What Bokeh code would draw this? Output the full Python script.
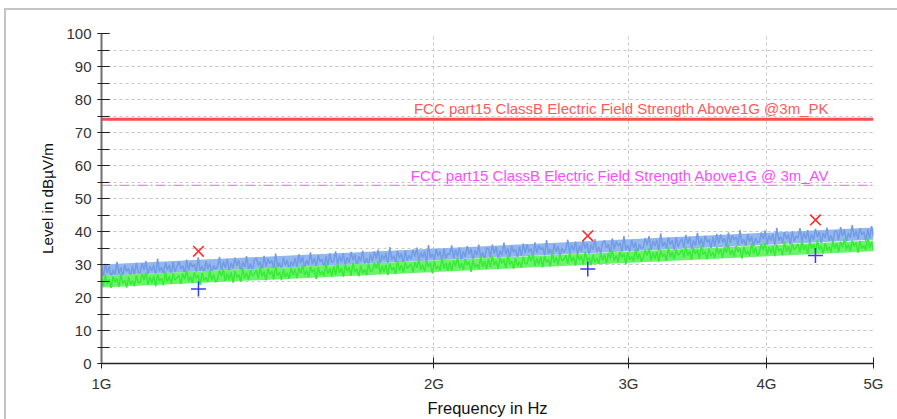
import numpy as np
from bokeh.plotting import figure
from bokeh.models import (Label, FixedTicker, SingleIntervalTicker,
                          CustomJSTickFormatter)
from bokeh.embed import file_html
from bokeh.resources import INLINE

# ---------------- data ----------------
x_ticks = [1e9, 2e9, 3e9, 4e9, 5e9]

pk_limit = 74.0
av_limit = 54.0
pk_limit_label = "FCC part15 ClassB Electric Field Strength Above1G @3m_PK"
av_limit_label = "FCC part15 ClassB Electric Field Strength Above1G @ 3m_AV"
limit_label_freq = 4.56e9

# final measurement markers
pk_freq = [1.224e9, 2.756e9, 4.43e9]
pk_level = [34.0, 38.7, 43.5]
av_freq = [1.224e9, 2.756e9, 4.43e9]
av_level = [22.6, 28.6, 32.7]

# pre-scan traces (peak = blue, average = green), 400 sweep points 1G..5G
peak_trace = [
    29.0, 26.3, 30.2, 27.5, 29.5, 25.9, 28.4, 27.0, 30.8, 27.2, 29.1, 26.5, 29.9, 27.9, 28.8, 26.1, 29.6, 26.8, 30.5, 27.6,
    27.5, 30.4, 28.3, 31.0, 26.8, 29.5, 28.0, 29.9, 26.4, 31.8, 27.9, 29.2, 27.2, 30.6, 28.4, 29.8, 26.6, 30.7, 27.7, 29.3,
    30.9, 28.6, 29.7, 26.9, 31.5, 28.3, 30.6, 29.2, 30.1, 27.6, 32.2, 28.1, 29.5, 27.4, 31.0, 28.7, 30.3, 27.1, 29.8, 28.5,
    29.4, 32.3, 28.3, 30.9, 29.0, 31.7, 27.9, 30.5, 28.8, 32.1, 29.6, 31.3, 27.4, 30.8, 29.3, 32.5, 28.5, 30.2, 28.1, 31.4,
    32.0, 29.7, 30.8, 28.0, 32.6, 29.4, 31.7, 30.3, 31.2, 28.7, 33.3, 29.2, 30.6, 28.5, 32.1, 29.8, 31.4, 28.2, 30.9, 29.6,
    31.9, 29.2, 33.1, 30.4, 32.4, 28.8, 31.3, 29.9, 33.7, 30.1, 32.0, 29.4, 32.8, 30.8, 31.7, 29.0, 32.5, 29.7, 33.4, 30.5,
    31.1, 34.0, 30.0, 32.6, 30.7, 33.4, 29.6, 32.2, 30.5, 33.8, 31.3, 33.0, 29.1, 32.5, 31.0, 34.2, 30.2, 31.9, 29.8, 33.1,
    31.0, 33.9, 31.8, 34.5, 30.3, 33.0, 31.5, 33.4, 29.9, 35.3, 31.4, 32.7, 30.7, 34.1, 31.9, 33.3, 30.1, 34.2, 31.2, 32.8,
    31.6, 34.5, 32.4, 35.1, 30.9, 33.6, 32.1, 34.0, 30.5, 35.9, 32.0, 33.3, 31.3, 34.7, 32.5, 33.9, 30.7, 34.8, 31.8, 33.4,
    32.9, 35.8, 31.8, 34.4, 32.5, 35.2, 31.4, 34.0, 32.3, 35.6, 33.1, 34.8, 30.9, 34.3, 32.8, 36.0, 32.0, 33.7, 31.6, 34.9,
    34.8, 32.1, 36.0, 33.3, 35.3, 31.7, 34.2, 32.8, 36.6, 33.0, 34.9, 32.3, 35.7, 33.7, 34.6, 31.9, 35.4, 32.6, 36.3, 33.4,
    36.1, 33.8, 34.9, 32.1, 36.7, 33.5, 35.8, 34.4, 35.3, 32.8, 37.4, 33.3, 34.7, 32.6, 36.2, 33.9, 35.5, 32.3, 35.0, 33.7,
    34.6, 37.5, 33.5, 36.1, 34.2, 36.9, 33.1, 35.7, 34.0, 37.3, 34.8, 36.5, 32.6, 36.0, 34.5, 37.7, 33.7, 35.4, 33.3, 36.6,
    37.3, 35.0, 36.1, 33.3, 37.9, 34.7, 37.0, 35.6, 36.5, 34.0, 38.6, 34.5, 35.9, 33.8, 37.4, 35.1, 36.7, 33.5, 36.2, 34.9,
    35.1, 38.0, 35.9, 38.6, 34.4, 37.1, 35.6, 37.5, 34.0, 39.4, 35.5, 36.8, 34.8, 38.2, 36.0, 37.4, 34.2, 38.3, 35.3, 36.9,
    37.8, 35.1, 39.0, 36.3, 38.3, 34.7, 37.2, 35.8, 39.6, 36.0, 37.9, 35.3, 38.7, 36.7, 37.6, 34.9, 38.4, 35.6, 39.3, 36.4,
    39.1, 36.8, 37.9, 35.1, 39.7, 36.5, 38.8, 37.4, 38.3, 35.8, 40.4, 36.3, 37.7, 35.6, 39.2, 36.9, 38.5, 35.3, 38.0, 36.7,
    36.8, 39.7, 37.6, 40.3, 36.1, 38.8, 37.3, 39.2, 35.7, 41.1, 37.2, 38.5, 36.5, 39.9, 37.7, 39.1, 35.9, 40.0, 37.0, 38.6,
    38.1, 41.0, 37.0, 39.6, 37.7, 40.4, 36.6, 39.2, 37.5, 40.8, 38.3, 40.0, 36.1, 39.5, 38.0, 41.2, 37.2, 38.9, 36.8, 40.1,
    40.1, 37.4, 41.3, 38.6, 40.6, 37.0, 39.5, 38.1, 41.9, 38.3, 40.2, 37.6, 41.0, 39.0, 39.9, 37.2, 40.7, 37.9, 41.6, 38.7,
]
avg_trace = [
    26.0, 23.5, 26.8, 24.1, 25.5, 22.9, 26.4, 24.6, 25.8, 23.2, 27.1, 24.3, 25.3, 23.0, 26.2, 23.9, 25.1, 23.4, 26.7, 24.5,
    24.6, 27.1, 25.3, 27.5, 23.9, 26.2, 24.3, 26.5, 23.4, 26.9, 25.0, 25.8, 23.7, 27.8, 24.8, 26.4, 24.2, 27.2, 25.4, 26.0,
    26.7, 24.1, 27.2, 25.5, 28.1, 24.9, 26.4, 24.4, 27.6, 25.8, 26.9, 23.8, 27.4, 25.1, 26.1, 24.7, 28.4, 25.3, 27.0, 24.6,
    25.7, 28.2, 26.4, 28.6, 25.0, 27.3, 25.4, 27.6, 24.5, 28.0, 26.1, 26.9, 24.8, 28.9, 25.9, 27.5, 25.3, 28.3, 26.5, 27.1,
    28.3, 25.8, 29.1, 26.4, 27.8, 25.2, 28.7, 26.9, 28.1, 25.5, 29.4, 26.6, 27.6, 25.3, 28.5, 26.2, 27.4, 25.7, 29.0, 26.8,
    28.5, 25.9, 29.0, 27.3, 29.9, 26.7, 28.2, 26.2, 29.4, 27.6, 28.7, 25.6, 29.2, 26.9, 27.9, 26.5, 30.2, 27.1, 28.8, 26.4,
    29.4, 26.9, 30.2, 27.5, 28.9, 26.3, 29.8, 28.0, 29.2, 26.6, 30.5, 27.7, 28.7, 26.4, 29.6, 27.3, 28.5, 26.8, 30.1, 27.9,
    28.0, 30.5, 28.7, 30.9, 27.3, 29.6, 27.7, 29.9, 26.8, 30.3, 28.4, 29.2, 27.1, 31.2, 28.2, 29.8, 27.6, 30.6, 28.8, 29.4,
    30.2, 27.6, 30.7, 29.0, 31.6, 28.4, 29.9, 27.9, 31.1, 29.3, 30.4, 27.3, 30.9, 28.6, 29.6, 28.2, 31.9, 28.8, 30.5, 28.1,
    30.7, 28.1, 31.2, 29.5, 32.1, 28.9, 30.4, 28.4, 31.6, 29.8, 30.9, 27.8, 31.4, 29.1, 30.1, 28.7, 32.4, 29.3, 31.0, 28.6,
    31.7, 29.2, 32.5, 29.8, 31.2, 28.6, 32.1, 30.3, 31.5, 28.9, 32.8, 30.0, 31.0, 28.7, 31.9, 29.6, 30.8, 29.1, 32.4, 30.2,
    30.3, 32.8, 31.0, 33.2, 29.6, 31.9, 30.0, 32.2, 29.1, 32.6, 30.7, 31.5, 29.4, 33.5, 30.5, 32.1, 29.9, 32.9, 31.1, 31.7,
    32.8, 30.3, 33.6, 30.9, 32.3, 29.7, 33.2, 31.4, 32.6, 30.0, 33.9, 31.1, 32.1, 29.8, 33.0, 30.7, 31.9, 30.2, 33.5, 31.3,
    33.0, 30.4, 33.5, 31.8, 34.4, 31.2, 32.7, 30.7, 33.9, 32.1, 33.2, 30.1, 33.7, 31.4, 32.4, 31.0, 34.7, 31.6, 33.3, 30.9,
    32.0, 34.5, 32.7, 34.9, 31.3, 33.6, 31.7, 33.9, 30.8, 34.3, 32.4, 33.2, 31.1, 35.2, 32.2, 33.8, 31.6, 34.6, 32.8, 33.4,
    34.6, 32.1, 35.4, 32.7, 34.1, 31.5, 35.0, 33.2, 34.4, 31.8, 35.7, 32.9, 33.9, 31.6, 34.8, 32.5, 33.7, 32.0, 35.3, 33.1,
    34.7, 32.1, 35.2, 33.5, 36.1, 32.9, 34.4, 32.4, 35.6, 33.8, 34.9, 31.8, 35.4, 33.1, 34.1, 32.7, 36.4, 33.3, 35.0, 32.6,
    33.7, 36.2, 34.4, 36.6, 33.0, 35.3, 33.4, 35.6, 32.5, 36.0, 34.1, 34.9, 32.8, 36.9, 33.9, 35.5, 33.3, 36.3, 34.5, 35.1,
    36.3, 33.8, 37.1, 34.4, 35.8, 33.2, 36.7, 34.9, 36.1, 33.5, 37.4, 34.6, 35.6, 33.3, 36.5, 34.2, 35.4, 33.7, 37.0, 34.8,
    36.4, 33.8, 36.9, 35.2, 37.8, 34.6, 36.1, 34.1, 37.3, 35.5, 36.6, 33.5, 37.1, 34.8, 35.8, 34.4, 38.1, 35.0, 36.7, 34.3,
]
sweep_freq = np.geomspace(1e9, 5e9, len(peak_trace))

# dense core of each trace (read at 1G and 5G)
band_freq = [1e9, 5e9]
peak_band_lo = [26.5, 37.5]
peak_band_hi = [30.0, 41.2]
avg_band_lo = [23.0, 34.0]
avg_band_hi = [26.6, 37.3]

# ---------------- figure ----------------
FONT = "Liberation Sans"
BLUE = "#729ce6"
BLUE_FILL = "#94b7ee"
GREEN = "#36ec36"
GREEN_FILL = "#6ef26e"
FRAME_GRAY = "#c4c4c4"

p = figure(width=897, height=419, x_axis_type="log",
           x_range=(1e9, 5e9), y_range=(0, 100),
           output_backend="svg", toolbar_location=None,
           min_border_left=101, min_border_right=24,
           min_border_top=33, min_border_bottom=54)
p.outline_line_color = None
p.background_fill_color = "white"
p.border_fill_color = None
# outer panel frame of the report (top and left edges)
p.styles = {
    "background-color": "white",
    "background-image": f"linear-gradient({FRAME_GRAY}, {FRAME_GRAY}), linear-gradient({FRAME_GRAY}, {FRAME_GRAY})",
    "background-size": "calc(100% - 4px) 2px, 2px calc(100% - 8px)",
    "background-position": "4px 8px, 4px 8px",
    "background-repeat": "no-repeat",
}

# axes
p.xaxis.ticker = FixedTicker(ticks=x_ticks, minor_ticks=[])
p.xaxis.formatter = CustomJSTickFormatter(code="return (tick/1e9).toFixed(0) + 'G';")
p.yaxis.ticker = SingleIntervalTicker(interval=10, num_minor_ticks=2)

for ax in (p.xaxis[0], p.yaxis[0]):
    ax.major_label_text_font = FONT
    ax.major_label_text_font_size = "15px"
    ax.major_label_text_color = "#333333"
    ax.axis_label_text_font = FONT
    ax.axis_label_text_font_style = "normal"
    ax.axis_label_text_color = "#111111"

p.xaxis.axis_label = "Frequency in Hz"
p.xaxis.axis_label_text_font_size = "16.5px"
p.xaxis.axis_line_color = "#222222"
p.xaxis.axis_line_width = 1.5
p.xaxis.major_tick_in = 6
p.xaxis.major_tick_out = 5
p.xaxis.major_tick_line_color = "#222222"
p.xaxis.major_label_standoff = 6
p.xaxis.axis_label_standoff = 4

p.yaxis.axis_label = "Level in dBµV/m"
p.yaxis.axis_label_text_font_size = "15.2px"
p.yaxis.axis_line_color = "#707070"
p.yaxis.axis_line_width = 2
p.yaxis.major_tick_in = 8
p.yaxis.major_tick_out = 4
p.yaxis.minor_tick_in = 8
p.yaxis.minor_tick_out = 4
p.yaxis.major_tick_line_color = "#222222"
p.yaxis.minor_tick_line_color = "#222222"
p.yaxis.major_label_standoff = 6
p.yaxis.axis_label_standoff = 7

# grid
for g in (p.xgrid[0], p.ygrid[0]):
    g.grid_line_color = "#c8c8c8"
    g.grid_line_dash = "3 3"
    g.grid_line_width = 1
p.ygrid.minor_grid_line_color = "#c8c8c8"
p.ygrid.minor_grid_line_dash = "3 3"

# traces
p.varea(x=band_freq, y1=peak_band_lo, y2=peak_band_hi, fill_color=BLUE_FILL, fill_alpha=1.0)
p.line(sweep_freq, peak_trace, line_color=BLUE, line_width=1.5)
p.varea(x=band_freq, y1=avg_band_lo, y2=avg_band_hi, fill_color=GREEN_FILL, fill_alpha=1.0)
p.line(sweep_freq, avg_trace, line_color=GREEN, line_width=1.5)

# limit lines
p.line([1e9, 5e9], [pk_limit, pk_limit], line_color="#ff4d4d", line_width=3)
p.line([1e9, 5e9], [av_limit, av_limit], line_color="#ff55ff", line_width=1,
       line_dash="10 3 2 3")

p.add_layout(Label(x=limit_label_freq, y=pk_limit, text=pk_limit_label,
                   text_align="right", text_baseline="bottom", y_offset=2,
                   text_font=FONT, text_font_size="15px", text_color="#ff5a5a"))
p.add_layout(Label(x=limit_label_freq, y=av_limit, text=av_limit_label,
                   text_align="right", text_baseline="bottom", y_offset=1,
                   text_font=FONT, text_font_size="15px", text_color="#ff4cff"))

# markers
p.scatter(pk_freq, pk_level, marker="x", size=15, line_color="#ff2a2a", line_width=1.6)
p.scatter(av_freq, av_level, marker="cross", size=15, line_color="#3a3aff", line_width=1.5)

open("out.html", "w").write(file_html(p, INLINE))
